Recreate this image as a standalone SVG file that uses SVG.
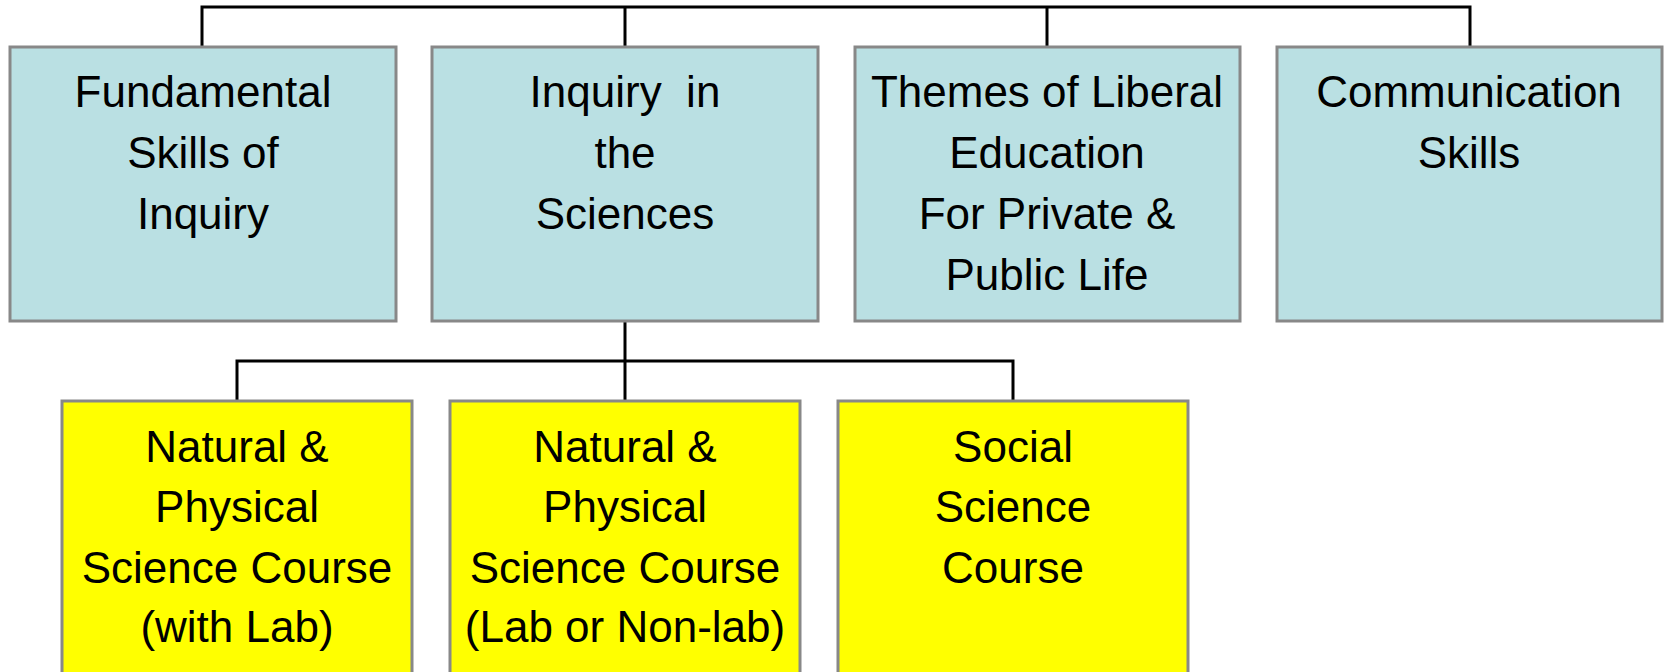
<svg xmlns="http://www.w3.org/2000/svg" width="1669" height="672" viewBox="0 0 1669 672">
<style>
.top{fill:#BAE0E3;stroke:#888888;stroke-width:3}
.bot{fill:#FFFF00;stroke:#888888;stroke-width:3}
text{font-family:"Liberation Sans",Arial,sans-serif;font-size:44px;fill:#000;text-anchor:middle;white-space:pre}
.conn{fill:none;stroke:#000;stroke-width:3}
</style>
<rect width="1669" height="672" fill="#fff"/>
<g id="connectors">
<path class="conn" d="M202,47 V7 H1470 V47"/>
<path class="conn" d="M625,7 V47"/>
<path class="conn" d="M1047,7 V47"/>
<path class="conn" d="M625,322 V401"/>
<path class="conn" d="M237,401 V361 H1013 V401"/>
</g>
<g id="n1">
<rect class="top" x="10" y="47" width="386" height="274"/>
<text x="203" y="107">Fundamental</text>
<text x="203" y="168">Skills of</text>
<text x="203" y="229">Inquiry</text>
</g>
<g id="n2">
<rect class="top" x="432" y="47" width="386" height="274"/>
<text x="625" y="107">Inquiry  in</text>
<text x="625" y="168">the</text>
<text x="625" y="229">Sciences</text>
</g>
<g id="n3">
<rect class="top" x="855" y="47" width="385" height="274"/>
<text x="1047" y="107">Themes of Liberal</text>
<text x="1047" y="168">Education</text>
<text x="1047" y="229">For Private &amp;</text>
<text x="1047" y="290">Public Life</text>
</g>
<g id="n4">
<rect class="top" x="1277" y="47" width="385" height="274"/>
<text x="1469" y="107">Communication</text>
<text x="1469" y="168">Skills</text>
</g>
<g id="n5">
<rect class="bot" x="62" y="401" width="350" height="290"/>
<text x="237" y="462">Natural &amp;</text>
<text x="237" y="522">Physical</text>
<text x="237" y="583">Science Course</text>
<text x="237" y="642">(with Lab)</text>
</g>
<g id="n6">
<rect class="bot" x="450" y="401" width="350" height="290"/>
<text x="625" y="462">Natural &amp;</text>
<text x="625" y="522">Physical</text>
<text x="625" y="583">Science Course</text>
<text x="625" y="642">(Lab or Non-lab)</text>
</g>
<g id="n7">
<rect class="bot" x="838" y="401" width="350" height="290"/>
<text x="1013" y="462">Social</text>
<text x="1013" y="522">Science</text>
<text x="1013" y="583">Course</text>
</g>
</svg>
